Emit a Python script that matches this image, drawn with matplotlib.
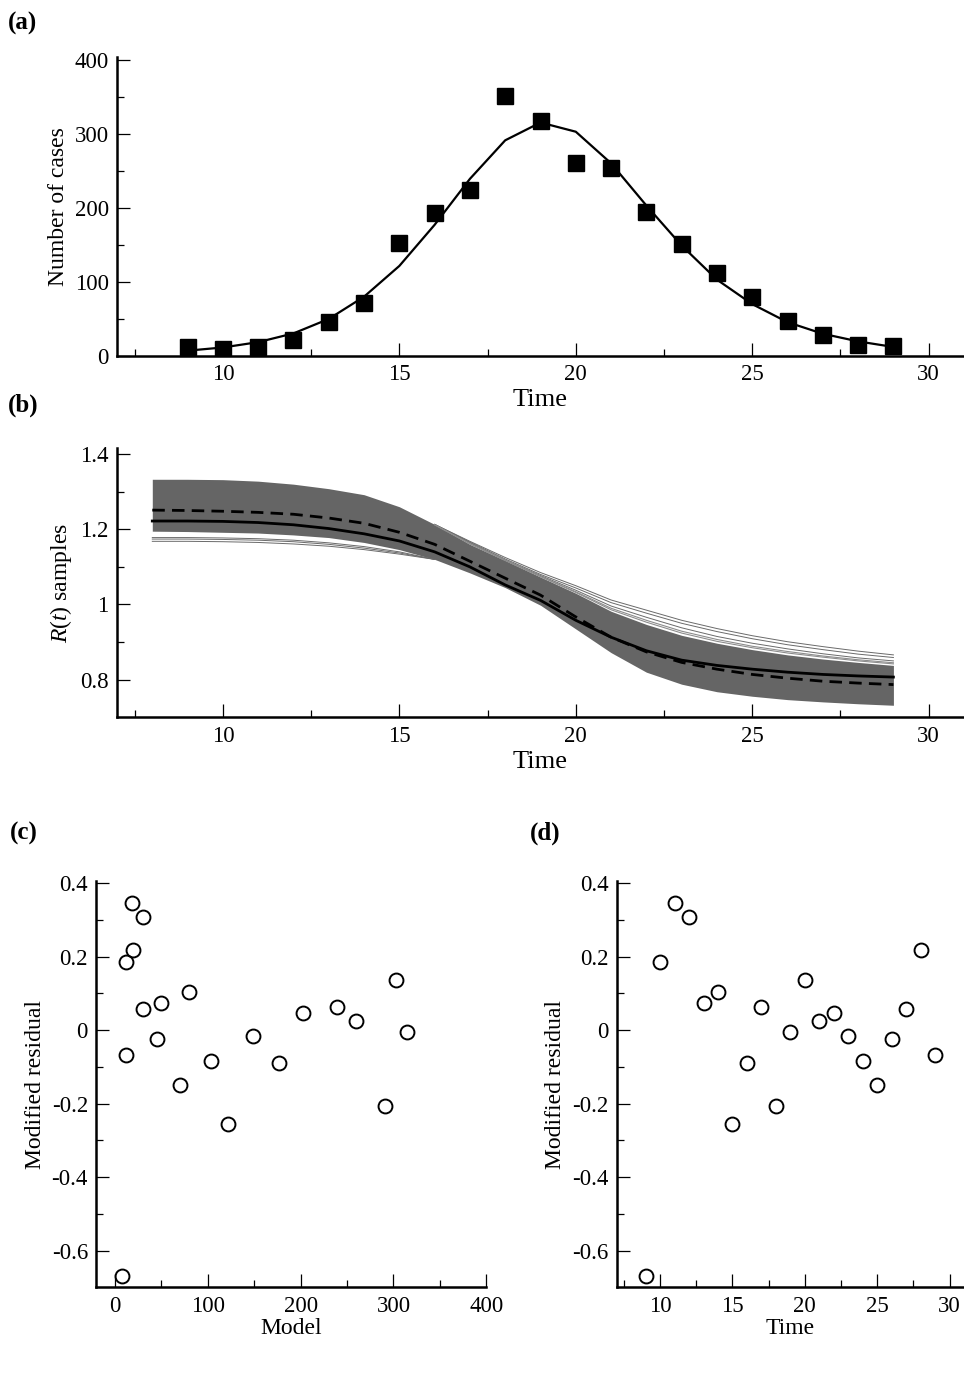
import numpy as np
import matplotlib
matplotlib.use('Agg')
import matplotlib.pyplot as plt

plt.rcParams['font.family'] = ['Liberation Serif', 'DejaVu Serif']
plt.rcParams['mathtext.fontset'] = 'custom'
plt.rcParams['mathtext.rm'] = 'Liberation Serif'
plt.rcParams['mathtext.it'] = 'Liberation Serif:italic'
plt.rcParams['axes.unicode_minus'] = False

# observed cases and model fit, t = 9..29
time = [9, 10, 11, 12, 13, 14, 15, 16, 17, 18, 19, 20, 21, 22, 23, 24, 25, 26, 27, 28, 29]
cases = [12, 9, 12, 21, 46, 72, 153, 193, 224, 351, 317, 261, 254, 194, 151, 112, 80, 47, 28, 15, 13]
model = [7.2, 11.5, 18.7, 30.5, 50, 80, 121.5, 177, 239, 291, 315, 302.6, 260, 203, 149, 103, 70,
         45.6, 30, 19.7, 12.2]
residual = [-0.669, 0.185, 0.347, 0.309, 0.074, 0.104, -0.256, -0.09, 0.062, -0.206, -0.005, 0.137,
            0.025, 0.046, -0.017, -0.083, -0.149, -0.025, 0.057, 0.218, -0.067]

# R(t) samples: envelope of the sample band, two summary curves, stray samples
r_time = [8, 9, 10, 11, 12, 13, 14, 15, 16, 17, 18, 19, 20, 21, 22, 23, 24, 25, 26, 27, 28, 29]
r_upper = [1.333, 1.333, 1.332, 1.328, 1.320, 1.308, 1.292, 1.260, 1.213, 1.160, 1.117, 1.073,
           1.030, 0.982, 0.947, 0.918, 0.897, 0.880, 0.866, 0.855, 0.846, 0.838]
r_lower = [1.195, 1.194, 1.192, 1.190, 1.185, 1.178, 1.165, 1.146, 1.120, 1.084, 1.045, 0.998,
           0.935, 0.872, 0.820, 0.788, 0.768, 0.756, 0.747, 0.741, 0.736, 0.732]
r_solid = [1.222, 1.222, 1.221, 1.218, 1.212, 1.202, 1.188, 1.169, 1.140, 1.100, 1.052, 1.011,
           0.958, 0.913, 0.877, 0.852, 0.838, 0.828, 0.820, 0.814, 0.810, 0.807]
r_dashed = [1.251, 1.250, 1.248, 1.245, 1.240, 1.230, 1.216, 1.192, 1.160, 1.115, 1.070, 1.025,
            0.967, 0.913, 0.874, 0.846, 0.828, 0.814, 0.804, 0.796, 0.791, 0.787]
hi_time = [16, 17, 18, 19, 20, 21, 22, 23, 24, 25, 26, 27, 28, 29]
r_hi1 = [1.213, 1.168, 1.125, 1.085, 1.050, 1.012, 0.985, 0.958, 0.936, 0.917, 0.901, 0.888, 0.876, 0.866]
r_hi2 = [1.213, 1.166, 1.121, 1.080, 1.044, 1.005, 0.977, 0.950, 0.928, 0.909, 0.893, 0.880, 0.868, 0.859]
r_hi3 = [1.213, 1.164, 1.118, 1.077, 1.038, 0.996, 0.966, 0.938, 0.915, 0.897, 0.882, 0.869, 0.858, 0.850]
r_hi4 = [1.212, 1.162, 1.118, 1.075, 1.034, 0.990, 0.958, 0.929, 0.907, 0.889, 0.875, 0.863, 0.853, 0.845]
r_hi5 = [1.212, 1.161, 1.117, 1.074, 1.032, 0.986, 0.953, 0.924, 0.902, 0.885, 0.871, 0.860, 0.850, 0.842]
lo_time = [8, 9, 10, 11, 12, 13, 14, 15, 16]
r_lo1 = [1.178, 1.178, 1.177, 1.175, 1.171, 1.164, 1.154, 1.140, 1.120]
r_lo2 = [1.174, 1.174, 1.173, 1.171, 1.167, 1.160, 1.150, 1.137, 1.120]
r_lo3 = [1.168, 1.168, 1.167, 1.165, 1.161, 1.155, 1.146, 1.134, 1.120]

fig = plt.figure(figsize=(9.64, 13.76), dpi=100)
W, H = 964.0, 1376.0


def make_axes(left, right, top, bottom):
    ax = fig.add_axes([left / W, 1 - bottom / H, (right - left) / W, (bottom - top) / H])
    ax.spines['top'].set_visible(False)
    ax.spines['right'].set_visible(False)
    ax.spines['left'].set_linewidth(1.8)
    ax.spines['bottom'].set_linewidth(1.8)
    ax.tick_params(which='both', direction='in', labelsize=16.5, pad=6, width=0.9)
    ax.tick_params(which='major', length=9.5)
    ax.tick_params(which='minor', length=5)
    return ax


def fmt(v, pos):
    return '%g' % round(v, 6)


# (a)
ax = make_axes(117, 964, 57.3, 356)
ax.plot(time, model, color='black', lw=1.6, zorder=2)
ax.plot(time, cases, 's', color='black', ms=11, zorder=3)
ax.set_xlim(7, 31)
ax.set_ylim(0, 403)
ax.set_xticks([10, 15, 20, 25, 30])
ax.set_xticks([7.5, 12.5, 17.5, 22.5, 27.5], minor=True)
ax.set_yticks([0, 100, 200, 300, 400])
ax.set_yticks([50, 150, 250, 350], minor=True)
ax.set_xlabel('Time', fontsize=19, labelpad=3)
ax.set_ylabel('Number of cases', fontsize=17, labelpad=4)
fig.text(8 / W, 1 - 23 / H, '(a)', fontsize=18, fontweight='bold', va='center')

# (b)
ax = make_axes(117, 964, 447.7, 717.3)
ax.fill_between(r_time, r_lower, r_upper, color='#656565', lw=0, zorder=1)
for hi in [r_hi1, r_hi2, r_hi3]:
    ax.plot(hi_time, hi, color='#6a6a6a', lw=0.7, zorder=1)
for hi in [r_hi4, r_hi5]:
    ax.plot(hi_time, hi, color='#8c8c8c', lw=0.8, zorder=1)
for lo in [r_lo1, r_lo2, r_lo3]:
    ax.plot(lo_time, lo, color='#6a6a6a', lw=0.7, zorder=1)
ax.plot(r_time, r_solid, color='black', lw=2.0, zorder=3)
ax.plot(r_time, r_dashed, color='black', lw=2.0, ls=(0, (4.5, 2.6)), zorder=3)
ax.set_xlim(7, 31)
ax.set_ylim(0.7, 1.417)
ax.set_xticks([10, 15, 20, 25, 30])
ax.set_xticks([7.5, 12.5, 17.5, 22.5, 27.5], minor=True)
ax.set_yticks([0.8, 1.0, 1.2, 1.4])
ax.set_yticks([0.9, 1.1, 1.3], minor=True)
ax.yaxis.set_major_formatter(plt.FuncFormatter(fmt))
ax.set_xlabel('Time', fontsize=19, labelpad=3)
ax.set_ylabel(r'$R$($t$) samples', fontsize=17, labelpad=4)
fig.text(8 / W, 1 - 405 / H, '(b)', fontsize=18, fontweight='bold', va='center')

# (c)
ax = make_axes(96.3, 486.3, 881, 1287.3)
ax.plot(model, residual, 'o', mfc='none', mec='black', ms=10, mew=1.4)
ax.set_xlim(-20, 400)
ax.set_ylim(-0.7, 0.406)
ax.set_xticks([0, 100, 200, 300, 400])
ax.set_xticks([50, 150, 250, 350], minor=True)
ax.set_yticks([-0.6, -0.4, -0.2, 0, 0.2, 0.4])
ax.set_yticks([-0.5, -0.3, -0.1, 0.1, 0.3], minor=True)
ax.yaxis.set_major_formatter(plt.FuncFormatter(fmt))
ax.set_xlabel('Model', fontsize=17, labelpad=1)
ax.set_ylabel('Modified residual', fontsize=17, labelpad=4)
fig.text(10 / W, 1 - 833 / H, '(c)', fontsize=18, fontweight='bold', va='center')

# (d)
ax = make_axes(616.7, 964, 881, 1287.3)
ax.plot(time, residual, 'o', mfc='none', mec='black', ms=10, mew=1.4)
ax.set_xlim(7, 31)
ax.set_ylim(-0.7, 0.406)
ax.set_xticks([10, 15, 20, 25, 30])
ax.set_xticks([7.5, 12.5, 17.5, 22.5, 27.5], minor=True)
ax.set_yticks([-0.6, -0.4, -0.2, 0, 0.2, 0.4])
ax.set_yticks([-0.5, -0.3, -0.1, 0.1, 0.3], minor=True)
ax.yaxis.set_major_formatter(plt.FuncFormatter(fmt))
ax.set_xlabel('Time', fontsize=17, labelpad=1)
ax.set_ylabel('Modified residual', fontsize=17, labelpad=4)
fig.text(530 / W, 1 - 833 / H, '(d)', fontsize=18, fontweight='bold', va='center')

plt.savefig('out.png', dpi=100)
